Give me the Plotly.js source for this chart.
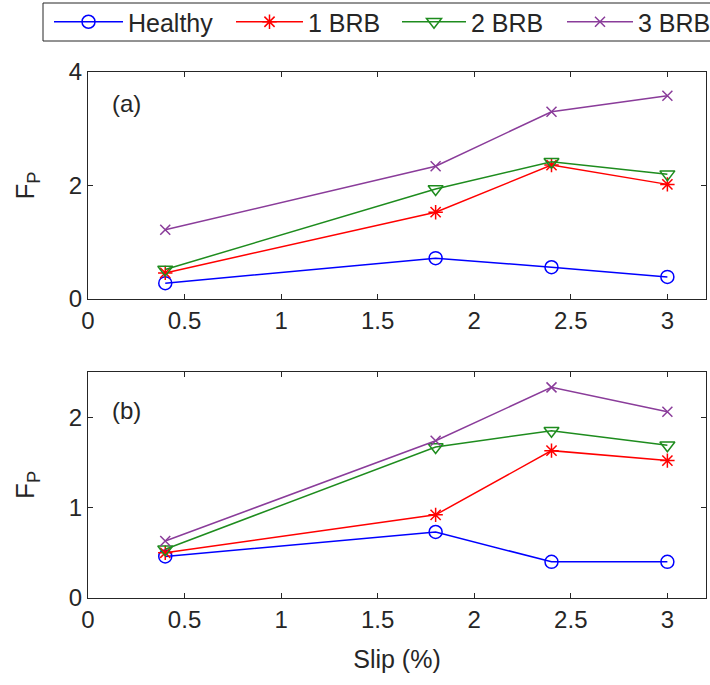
<!DOCTYPE html>
<html>
<head>
<meta charset="utf-8">
<script src="https://cdn.plot.ly/plotly-3.0.1.min.js"></script>
<style>html,body{margin:0;padding:0;background:#fff;}#chart{width:710px;height:685px;}</style>
</head>
<body>
<div id="chart"></div>
<script>
// Data
var slip = [0.4, 1.8, 2.4, 3.0];
var seriesNames = ["Healthy", "1 BRB", "2 BRB", "3 BRB"];
var a_healthy = [0.28, 0.72, 0.56, 0.39];
var a_brb1 = [0.46, 1.53, 2.36, 2.02];
var a_brb2 = [0.52, 1.94, 2.42, 2.20];
var a_brb3 = [1.22, 2.34, 3.30, 3.58];
var b_healthy = [0.46, 0.73, 0.40, 0.40];
var b_brb1 = [0.50, 0.92, 1.63, 1.52];
var b_brb2 = [0.54, 1.67, 1.85, 1.69];
var b_brb3 = [0.63, 1.74, 2.33, 2.06];
var xTicks = [0, 0.5, 1, 1.5, 2, 2.5, 3];
var yTicksA = [0, 2, 4];
var yTicksB = [0, 1, 2];

var colors = ["#0000FF", "#FF0000", "#1E8C1E", "#8A3C9A"];
var symbols = ["circle-open", "asterisk-open", "triangle-down-open", "x-thin-open"];
var sizes = [13, 12, 13, 10];
var aData = [a_healthy, a_brb1, a_brb2, a_brb3];
var bData = [b_healthy, b_brb1, b_brb2, b_brb3];
var legendIds = ["legend", "legend2", "legend3", "legend4"];

var FONT = "Liberation Sans, Arial, sans-serif";
var TXT = "#262626";
var traces = [];
for (var i = 0; i < 4; i++) {
  traces.push({
    x: slip, y: aData[i], xaxis: "x", yaxis: "y", name: seriesNames[i],
    mode: "lines+markers", legendgroup: seriesNames[i], legend: legendIds[i],
    line: {color: colors[i], width: 1.5},
    marker: {symbol: symbols[i], size: sizes[i], color: colors[i], line: {width: 1.5, color: colors[i]}}
  });
}
for (var i = 0; i < 4; i++) {
  traces.push({
    x: slip, y: bData[i], xaxis: "x2", yaxis: "y2", name: seriesNames[i],
    mode: "lines+markers", legendgroup: seriesNames[i], showlegend: false,
    line: {color: colors[i], width: 1.5},
    marker: {symbol: symbols[i], size: sizes[i], color: colors[i], line: {width: 1.5, color: colors[i]}}
  });
}

var axisCommon = {
  showline: true, linecolor: TXT, linewidth: 1, mirror: "ticks",
  ticks: "inside", ticklen: 5, tickcolor: TXT, tickwidth: 1,
  showgrid: false, zeroline: false,
  tickfont: {family: FONT, size: 24, color: TXT}
};
function ax(extra) { return Object.assign({}, axisCommon, extra); }

function leg(px, iw) {
  return {
    orientation: "h", xref: "container", yref: "container",
    x: px / 710, y: 1 - 22 / 685, xanchor: "left", yanchor: "middle",
    borderwidth: 0, bgcolor: "rgba(0,0,0,0)",
    font: {family: FONT, size: 25, color: TXT},
    itemwidth: iw
  };
}

var layout = {
  width: 710, height: 685,
  margin: {l: 88, r: 4, t: 72, b: 87, autoexpand: false},
  paper_bgcolor: "#fff", plot_bgcolor: "#fff",
  font: {family: FONT, size: 22, color: TXT},
  showlegend: true,
  legend: leg(49, 69),
  legend2: leg(231, 67),
  legend3: leg(397, 64),
  legend4: leg(562, 66),
  shapes: [
    {type: "rect", xref: "paper", yref: "paper",
     x0: (43 - 88) / 618, x1: (713 - 88) / 618, y0: (598 - 41) / 526, y1: (598 - 3) / 526,
     line: {color: TXT, width: 1}, fillcolor: "rgba(0,0,0,0)", layer: "below"}
  ],
  xaxis: ax({domain: [0, 1], range: [0, 3.2], tickvals: xTicks, ticktext: xTicks.map(String), anchor: "y"}),
  yaxis: ax({domain: [0.5684, 1], range: [0, 4], tickvals: yTicksA, anchor: "x",
    title: {text: "F<sub>P</sub>", standoff: 26, font: {family: FONT, size: 26, color: TXT}}}),
  xaxis2: ax({domain: [0, 1], range: [0, 3.2], tickvals: xTicks, ticktext: xTicks.map(String), anchor: "y2",
    title: {text: "Slip (%)", standoff: 18, font: {family: FONT, size: 25, color: TXT}}}),
  yaxis2: ax({domain: [0, 0.4297], range: [0, 2.5], tickvals: yTicksB, anchor: "x2",
    title: {text: "F<sub>P</sub>", standoff: 26, font: {family: FONT, size: 26, color: TXT}}}),
  annotations: [
    {text: "(a)", x: 0.2, y: 3.44, xref: "x", yref: "y", showarrow: false,
     font: {family: FONT, size: 24, color: TXT}},
    {text: "(b)", x: 0.2, y: 2.07, xref: "x2", yref: "y2", showarrow: false,
     font: {family: FONT, size: 24, color: TXT}}
  ]
};

Plotly.newPlot("chart", traces, layout, {displayModeBar: false, staticPlot: true});
</script>
</body>
</html>
